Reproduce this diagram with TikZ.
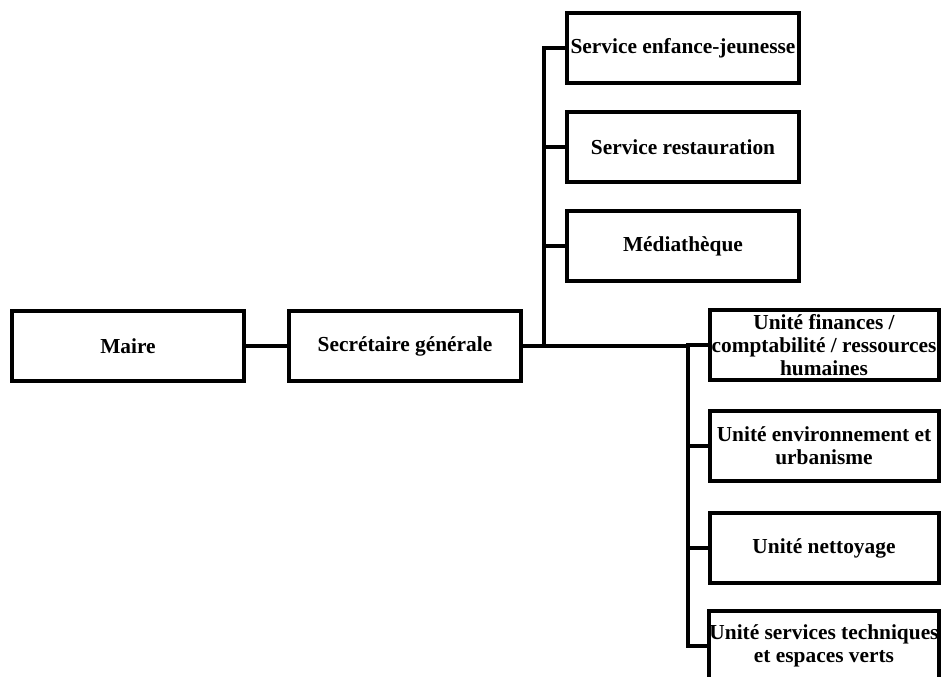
\documentclass[tikz,border=0pt]{standalone}
\usepackage{fontspec}
\setmainfont{Liberation Serif}
\usepackage{tikz}
\pgfdeclarelayer{edgelayer}
\pgfdeclarelayer{nodelayer}
\pgfsetlayers{edgelayer,nodelayer,main}
\tikzset{
	unit/.style={draw, fill=white, line width=1mm, minimum width=5.8cm, minimum height=1.75cm, inner sep=0pt, align=center, font=\fontsize{15.2}{16.6}\selectfont\bfseries},
	subunit/.style={unit, minimum width=5.725cm},
	link/.style={line width=1mm}
}
\begin{document}
\begin{tikzpicture}
							\useasboundingbox (0, 0) rectangle (23.55, -16.925);
							\begin{pgfonlayer}{nodelayer}
								\node [style=unit] (0) at (3.2, -8.65) {Maire};
								\node [style=unit] (1) at (10.125, -8.65) {Secrétaire générale};
								\node [style=unit] (2) at (17.075, -1.2) {Service enfance-jeunesse};
								\node [style=unit] (3) at (17.075, -3.675) {Service restauration};
								\node [style=unit] (4) at (17.075, -6.15) {Médiathèque};
								\node [style=subunit] (5) at (20.6, -8.625) {Unité finances /\\comptabilité / ressources\\humaines};
								\node [style=subunit] (6) at (20.6, -11.15) {Unité environnement et\\urbanisme};
								\node [style=subunit] (7) at (20.6, -13.7) {Unité nettoyage};
								\node [style=subunit] (8) at (20.6, -16.15) {Unité services techniques\\et espaces verts};
								\coordinate (9) at (13.6, -8.65);
								\coordinate (10) at (17.2, -8.65);
							\end{pgfonlayer}
							\begin{pgfonlayer}{edgelayer}
								\draw [style=link] (0) to (1);
								\draw [style=link] (1) to (10);
								\draw [style=link] (9) |- (2);
								\draw [style=link] (9) |- (3);
								\draw [style=link] (9) |- (4);
								\draw [style=link] (10) |- (5);
								\draw [style=link] (10) |- (6);
								\draw [style=link] (10) |- (7);
								\draw [style=link] (10) |- (8);
							\end{pgfonlayer}
						\end{tikzpicture}
\end{document}
